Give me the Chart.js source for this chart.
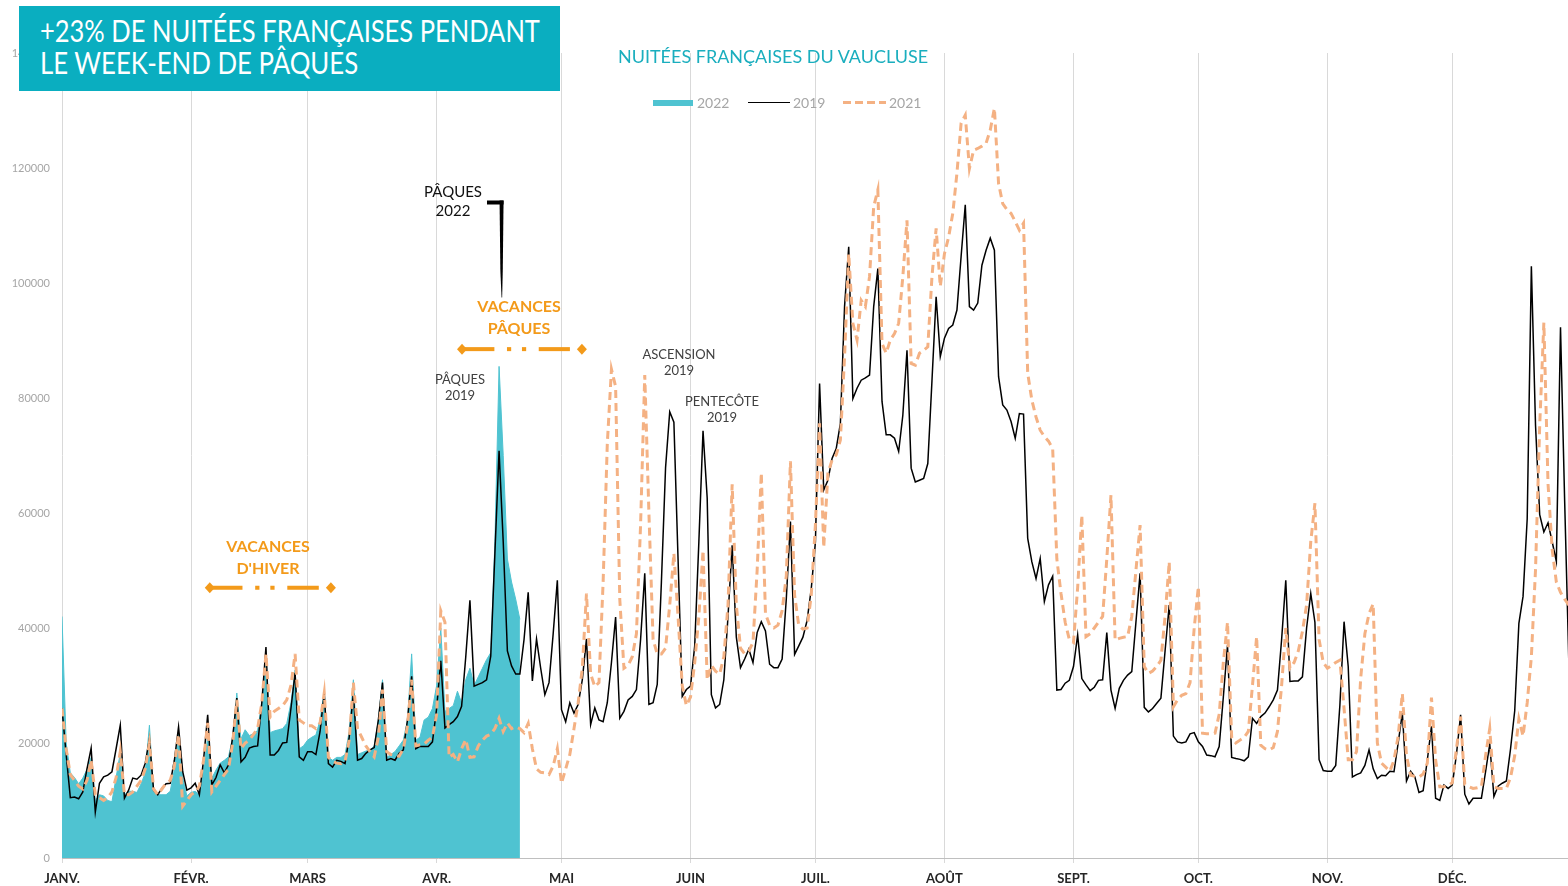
<!DOCTYPE html>
<html lang="fr">
<head>
<meta charset="utf-8">
<title>Nuitées françaises du Vaucluse</title>
<script src="https://cdn.jsdelivr.net/npm/chart.js@4.4.1/dist/chart.umd.min.js"></script>
<style>
  html, body { margin: 0; padding: 0; background: #fff; }
  #wrap { position: relative; width: 1568px; height: 886px; overflow: hidden; font-family: Lato, "Open Sans", sans-serif; }
  #chart { position: absolute; left: 0; top: 0; }
  .title-box { position: absolute; left: 19px; top: 6px; width: 541px; height: 85px; background: #0aaec0; }
  .title-line { position: absolute; left: 40px; color: #fff; font-size: 30px; line-height: 30px; white-space: nowrap; transform-origin: 0 0; }
  .subtitle { position: absolute; left: 618px; top: 46px; color: #1aaebe; font-size: 18px; line-height: 20px; white-space: nowrap; transform-origin: 0 0; }
  .legend-text { position: absolute; top: 95px; color: #a6a6a6; font-size: 14px; line-height: 16px; }
  .swatch { position: absolute; }
  .note { position: absolute; text-align: center; transform: translateX(-50%); white-space: nowrap; }
  .note.grey { color: #404040; font-size: 13px; line-height: 16px; }
  .note.black { color: #111; font-size: 15px; line-height: 19px; }
  .note.orange { color: #f39a1a; font-size: 16px; line-height: 22px; font-weight: bold; }
</style>
</head>
<body>
<div id="wrap">
  <canvas id="chart" width="1568" height="886"></canvas>

  <div class="title-box"></div>
  <div class="title-line" style="top:15px" data-fit="500">+23% DE NUITÉES FRANÇAISES PENDANT</div>
  <div class="title-line" style="top:47px" data-fit="318">LE WEEK-END DE PÂQUES</div>

  <div class="subtitle" data-fit="310">NUITÉES FRANÇAISES DU VAUCLUSE</div>

  <div class="swatch" style="left:653px; top:100px; width:40px; height:6px; background:#4fc3d1;"></div>
  <div class="legend-text" style="left:697px;">2022</div>
  <div class="swatch" style="left:748px; top:102px; width:42px; height:0; border-top:1.5px solid #000;"></div>
  <div class="legend-text" style="left:793px;">2019</div>
  <div class="swatch" style="left:843px; top:101px; width:43px; height:3px; background:repeating-linear-gradient(90deg, #f4b183 0 8px, transparent 8px 12px);"></div>
  <div class="legend-text" style="left:889px;">2021</div>

  <div class="note black" style="left:453px; top:182px;">PÂQUES<br>2022</div>
  <div class="note orange" style="left:519px; top:295px;">VACANCES<br>PÂQUES</div>
  <div class="note grey" style="left:460px; top:371px;">PÂQUES<br>2019</div>
  <div class="note grey" style="left:679px; top:346px;">ASCENSION<br>2019</div>
  <div class="note grey" style="left:722px; top:393px;">PENTECÔTE<br>2019</div>
  <div class="note orange" style="left:268px; top:535px;">VACANCES<br>D'HIVER</div>
</div>

<script>
// Axis labels
const monthLabels = ['JANV.', 'FÉVR.', 'MARS', 'AVR.', 'MAI', 'JUIN', 'JUIL.', 'AOÛT', 'SEPT.', 'OCT.', 'NOV.', 'DÉC.'];
const monthStarts = [0, 31, 59, 90, 120, 151, 181, 212, 243, 273, 304, 334];

// Daily French overnight stays, day 0 = 1 January
const nuitees2022 = [
    42000, 20000, 14800, 14000, 12900, 13900, 15400, 17500, 10000, 11000,
    10800, 10000, 9800, 14000, 18300, 11000, 11600, 11600, 11400, 12900,
    14800, 23100, 11600, 11000, 11000, 11000, 11600, 15400, 21700, 13900,
    10800, 11400, 11600, 11000, 15400, 21100, 13900, 15300, 16500, 17000,
    17600, 21000, 28700, 20700, 22300, 21300, 21600, 22200, 27000, 35600,
    21800, 22100, 22300, 22500, 23400, 27000, 32700, 19000, 19500, 20500,
    21000, 21400, 24000, 29000, 17500, 17000, 17500, 17500, 18000, 22000,
    31000, 18000, 18300, 18600, 18800, 19500, 24000, 31000, 17500, 18000,
    18500, 19500, 20500, 24000, 35500, 20500, 21000, 24000, 24500, 26000,
    30000, 40000, 25500, 26000, 26500, 29000, 27000, 31000, 33000, 30000,
    31500, 33000, 34500, 35700, 55000, 85500, 70000, 52000, 48000, 45000,
    41500
];

const nuitees2019 = [
    26000, 18000, 10500, 10600, 10300, 11500, 15500, 19100, 8000, 13000,
    14100, 14400, 15000, 19000, 23100, 10400, 11800, 13900, 13700, 14400,
    16500, 20700, 11800, 11000, 12100, 12900, 13000, 17000, 22800, 15000,
    11800, 12200, 13000, 11000, 17000, 24900, 12700, 14000, 16200, 14800,
    16200, 21000, 27800, 16700, 17500, 19100, 19400, 19500, 27000, 36700,
    17900, 17900, 18700, 20000, 20100, 26000, 32200, 17600, 17000, 18500,
    18500, 18000, 22000, 28700, 16400, 15800, 17000, 16800, 16400, 21000,
    28700, 17000, 17300, 18200, 18800, 19200, 24000, 30500, 17000, 17300,
    17000, 18200, 18800, 24000, 31600, 19000, 19400, 19400, 19400, 20200,
    26000, 34300, 22600, 23200, 23700, 24600, 26400, 35000, 44800, 29900,
    30200, 30500, 31000, 35100, 53000, 70800, 55000, 36000, 33400, 32000,
    32000, 38000, 46200, 30800, 38100, 33000, 28400, 30500, 39000, 48300,
    25800, 23700, 27000, 25200, 26700, 31000, 38100, 23200, 26100, 24000,
    23700, 27000, 34000, 41900, 24300, 25500, 27500, 28100, 29300, 38000,
    49500, 26700, 27000, 30200, 48000, 67900, 77600, 75800, 52000, 28100,
    29300, 29900, 36900, 55000, 74300, 62600, 28400, 26100, 26700, 31000,
    42000, 54400, 38400, 33100, 34600, 36300, 34000, 39200, 41100, 39500,
    33700, 33100, 33100, 34600, 45000, 58500, 35400, 36900, 38400, 41300,
    46800, 55000, 82500, 64000, 65700, 69500, 71200, 75600, 95900, 106300,
    79900, 81700, 83100, 83500, 84000, 95900, 102500, 79400, 73600, 73600,
    73000, 70700, 77000, 88300, 67800, 65400, 65700, 66000, 68600, 83000,
    97600, 87200, 90400, 92100, 92700, 95300, 104600, 113600, 95900, 95300,
    96500, 103100, 105700, 107800, 105700, 83700, 78800, 77900, 75900, 73000,
    77300, 77200, 55600, 51500, 48600, 52100, 44600, 47500, 49000, 29200,
    29300, 30400, 30900, 33300, 38800, 31200, 30100, 29100, 29700, 30900,
    31000, 39200, 29200, 26000, 29500, 30900, 31800, 32400, 41000, 49500,
    26200, 25400, 26000, 26900, 27800, 36000, 44000, 21200, 20200, 20000,
    20200, 21600, 21800, 20200, 19400, 17900, 17800, 17600, 19400, 28000,
    37000, 17500, 17300, 17150, 16900, 17600, 24300, 23400, 24600, 25200,
    26300, 27500, 29200, 38000, 48300, 30700, 30800, 30800, 31500, 40000,
    46000, 41000, 17100, 15200, 15100, 15100, 16100, 26600, 41100, 33300,
    14100, 14500, 14800, 16100, 18800, 15500, 13800, 14400, 14300, 15100,
    15000, 20000, 25200, 13400, 15100, 14100, 11400, 11700, 17000, 22900,
    10400, 10000, 12700, 12100, 12700, 18000, 24900, 11100, 9400, 10400,
    10400, 10400, 15000, 19800, 10700, 12500, 13000, 13400, 19000, 25600,
    40800, 45500, 59000, 102900, 75200, 59700, 56700, 58300, 55000, 51600,
    92300, 62000, 34000
];

const nuitees2021 = [
    26000, 19000, 14500, 13500, 12500, 12000, 13500, 17000, 11000, 10500,
    10000, 10500, 11500, 14000, 18500, 11000, 11000, 11500, 12500, 13500,
    15500, 20000, 12000, 11000, 12000, 13000, 13500, 16000, 21500, 9000,
    10000, 11000, 11500, 12500, 17000, 23500, 11500, 12500, 13500, 14500,
    15500, 20000, 27500, 19000, 20000, 20500, 21500, 22500, 27000, 35500,
    24500, 25500, 26000, 26500, 27500, 30000, 35500, 24000, 23500, 23000,
    23000, 22500, 23500, 28700, 17500, 16800, 16500, 16400, 16800, 20500,
    30500, 22500, 21000, 19500, 18500, 17600, 21000, 29300, 18500, 18000,
    17800, 17700, 19000, 23000, 31000, 19500, 19700, 19800, 20500, 21000,
    25000, 43000, 41000, 17500, 18000, 16700, 19000, 20600, 17500, 17600,
    19500, 20500, 21200, 21500, 22500, 24300, 22000, 23500, 22500, 22800,
    22500, 21800, 23400, 19000, 15500, 14900, 14800, 14500, 16000, 19000,
    13000, 15500, 18000, 22500, 27000, 33000, 46000, 32000, 29800, 30500,
    48000, 72000, 85000, 82000, 45000, 33000, 33500, 35000, 39000, 58000,
    84000, 60000, 38000, 35500, 35500, 36500, 44000, 53000, 42000, 30000,
    26500, 28000, 34000, 42000, 53500, 31000, 33500, 32500, 32000, 35000,
    44000, 65000, 44000, 36500, 35500, 36000, 37500, 50000, 67000, 42500,
    40500, 40000, 40500, 43000, 49000, 69000, 45700, 40400, 39800, 40000,
    45700, 58000, 75600, 54000, 66900, 69200, 70100, 72700, 87200, 105100,
    93000, 90100, 97000, 95900, 101100, 113300, 116200, 89500, 87800, 90100,
    91200, 93000, 101100, 110900, 86000, 85700, 87800, 88300, 88900, 101100,
    109500, 99400, 105100, 108000, 112100, 119100, 127800, 129200, 119900, 123100,
    123400, 123800, 124300, 126600, 130400, 117300, 113800, 112800, 112100, 110700,
    109200, 110400, 84300, 79600, 76700, 74400, 73300, 72500, 71200, 52000,
    46000, 41000, 38000, 37500, 47000, 59600, 38500, 39000, 40000, 41000,
    42000, 52000, 63100, 37900, 38200, 38400, 38500, 42000, 50000, 57900,
    33300, 32100, 32500, 33300, 34400, 42000, 51500, 26300, 27500, 28300,
    28600, 30500, 40000, 47200, 21700, 21600, 21600, 21700, 25000, 34000,
    41000, 21000, 20000, 20500, 21000, 22000, 30000, 38500, 19600, 19000,
    18800, 19200, 22000, 30000, 40000, 33000, 34000, 36000, 39400, 44000,
    55000, 61700, 38000, 34000, 33000, 33500, 34000, 34400, 26000, 17100,
    17100, 18500, 31300, 39000, 42500, 44200, 20000, 16500, 15800, 15100,
    17000, 21200, 28600, 17800, 14400, 14200, 14100, 14600, 16500, 27900,
    17000, 12400, 12400, 12600, 13100, 19000, 24600, 12800, 12400, 12100,
    12200, 12400, 17800, 22500, 12400, 12100, 12100, 12100, 14000, 17800,
    24200, 21200, 27000, 35000, 50200, 75200, 93100, 65100, 53600, 48000,
    46200, 45000, 44000
];

// Holiday spans (day index) and the Easter 2022 pointer, drawn through the scales
const vacationSpans = [
    { from: 35.5, to: 64.6, value: 47000 },
    { from: 96.1, to: 124.9, value: 88500 }
];
const easterPointer = { from: 102.1, at: 105.6, top: 114000, bottom: 97500 };

const toPoints = arr => arr.map((v, i) => ({ x: i, y: v }));

/**
 * Draw the dash-dot holiday arrows and the Easter 2022 pointer
 */
const annotationMarks = {
    id: 'annotationMarks',
    afterDatasetsDraw(chart) {
        const { ctx, scales: { x, y } } = chart;
        ctx.save();

        ctx.fillStyle = '#f39a1a';
        vacationSpans.forEach(s => {
            const x0 = x.getPixelForValue(s.from);
            const x1 = x.getPixelForValue(s.to);
            const py = y.getPixelForValue(s.value);
            const w = x1 - x0;
            // segments: long dash, dot, dot, long dash
            [[0.02, 0.27], [0.375, 0.41], [0.5, 0.535], [0.64, 0.9]].forEach(([a, b]) => {
                ctx.fillRect(x0 + a * w, py - 2, (b - a) * w, 4);
            });
            [x0, x1].forEach(cx => {
                ctx.beginPath();
                ctx.moveTo(cx, py - 5.5);
                ctx.lineTo(cx + 5, py);
                ctx.lineTo(cx, py + 5.5);
                ctx.lineTo(cx - 5, py);
                ctx.closePath();
                ctx.fill();
            });
        });

        const px = x.getPixelForValue(easterPointer.at);
        const left = x.getPixelForValue(easterPointer.from);
        const top = y.getPixelForValue(easterPointer.top);
        const bottom = y.getPixelForValue(easterPointer.bottom);
        ctx.fillStyle = '#000';
        ctx.fillRect(left, top - 2, px + 2 - left, 4);
        ctx.beginPath();
        ctx.moveTo(px - 2, top - 2);
        ctx.lineTo(px + 2, top - 2);
        ctx.lineTo(px + 1.2, top + (bottom - top) * 0.72);
        ctx.lineTo(px + 0.6, bottom);
        ctx.lineTo(px, bottom);
        ctx.lineTo(px - 1.2, top + (bottom - top) * 0.72);
        ctx.closePath();
        ctx.fill();

        ctx.restore();
    }
};

const ctx = document.getElementById('chart').getContext('2d');
new Chart(ctx, {
    type: 'line',
    data: {
        datasets: [
            {
                label: '2021',
                data: toPoints(nuitees2021),
                borderColor: '#f4b183',
                borderWidth: 3,
                borderDash: [8, 5],
                pointRadius: 0,
                fill: false,
                tension: 0,
            },
            {
                label: '2019',
                data: toPoints(nuitees2019),
                borderColor: '#000000',
                borderWidth: 1.5,
                pointRadius: 0,
                fill: false,
                tension: 0,
            },
            {
                label: '2022',
                data: toPoints(nuitees2022),
                borderColor: '#4fc3d1',
                backgroundColor: '#4fc3d1',
                borderWidth: 1,
                pointRadius: 0,
                fill: 'origin',
                tension: 0,
            }
        ]
    },
    options: {
        responsive: false,
        animation: false,
        layout: { padding: { top: 53, right: 0, bottom: 0, left: 0 } },
        plugins: {
            legend: { display: false },
            tooltip: { enabled: false }
        },
        scales: {
            x: {
                type: 'linear',
                min: 0,
                max: 361.8,
                afterBuildTicks: axis => { axis.ticks = monthStarts.map(v => ({ value: v })); },
                afterFit: axis => { axis.height = 28; },
                ticks: {
                    autoSkip: false,
                    maxRotation: 0,
                    padding: 8,
                    color: '#262626',
                    font: { family: 'Lato', size: 13, weight: 'bold' },
                    callback: v => monthLabels[monthStarts.indexOf(v)]
                },
                grid: { color: '#d9d9d9', lineWidth: 1, tickLength: 5 },
                border: { display: true, color: '#bfbfbf' }
            },
            y: {
                min: 0,
                max: 140000,
                afterFit: axis => { axis.width = 62; },
                ticks: {
                    stepSize: 20000,
                    padding: 12,
                    color: '#a6a6a6',
                    font: { family: 'Lato', size: 11 },
                    callback: v => String(v)
                },
                grid: { display: false, drawTicks: false },
                border: { display: false }
            }
        }
    },
    plugins: [annotationMarks]
});

// Squeeze the heading texts to the widths of the original lettering
document.querySelectorAll('[data-fit]').forEach(el => {
    el.style.display = 'inline-block';
    const target = Number(el.dataset.fit);
    const w = el.getBoundingClientRect().width;
    if (w > 0) el.style.transform = 'scaleX(' + (target / w).toFixed(3) + ')';
});
</script>
</body>
</html>
